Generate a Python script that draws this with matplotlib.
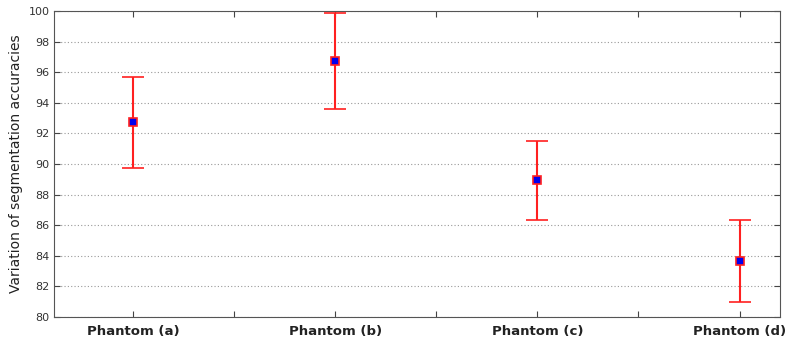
import numpy as np
import matplotlib
matplotlib.use('Agg')
import matplotlib.pyplot as plt

labels = ['Phantom (a)', 'Phantom (b)', 'Phantom (c)', 'Phantom (d)']
means = [92.75, 96.73, 88.95, 83.66]
lower = [89.74, 93.57, 86.34, 80.98]
upper = [95.70, 99.90, 91.52, 86.34]

x = np.arange(1, len(labels) + 1)
means = np.array(means)
err = [means - np.array(lower), np.array(upper) - means]

fig = plt.figure(figsize=(7.88, 3.47), dpi=100)
ax = fig.add_axes([54/788, 1 - 317/347, (780-54)/788, (317-11)/347])

ax.errorbar(x, means, yerr=err, fmt='s', color='#ff2020', ecolor='#ff2020',
            elinewidth=1.5, capsize=8, capthick=1.5,
            markerfacecolor='#0000ee', markeredgecolor='#ff2020',
            markersize=6, markeredgewidth=1.2, zorder=3)

ax.set_xlim(0.61, 4.2)
ax.set_ylim(80, 100)
ax.set_yticks(np.arange(80, 101, 2))
ax.set_xticks(np.arange(1, 4.01, 0.5))
ax.set_xticklabels([l if i % 2 == 0 else '' for i, l in
                    enumerate(np.repeat(labels, 2)[:-1])])
ax.grid(axis='y', linestyle=(0, (1, 2)), color='#999999', linewidth=0.8)
ax.tick_params(direction='in', top=True, right=True, length=4, color='#444444')
ax.tick_params(axis='y', labelsize=8, labelcolor='#333333', pad=3)
ax.tick_params(axis='x', labelsize=9.5, pad=6)
for t in ax.get_xticklabels():
    t.set_fontweight('bold')
    t.set_color('#222222')
for s in ax.spines.values():
    s.set_color('#555555')
ax.set_ylabel('Variation of segmentation accuracies', fontsize=10, color='#222222')

fig.savefig('out.png', dpi=100)
